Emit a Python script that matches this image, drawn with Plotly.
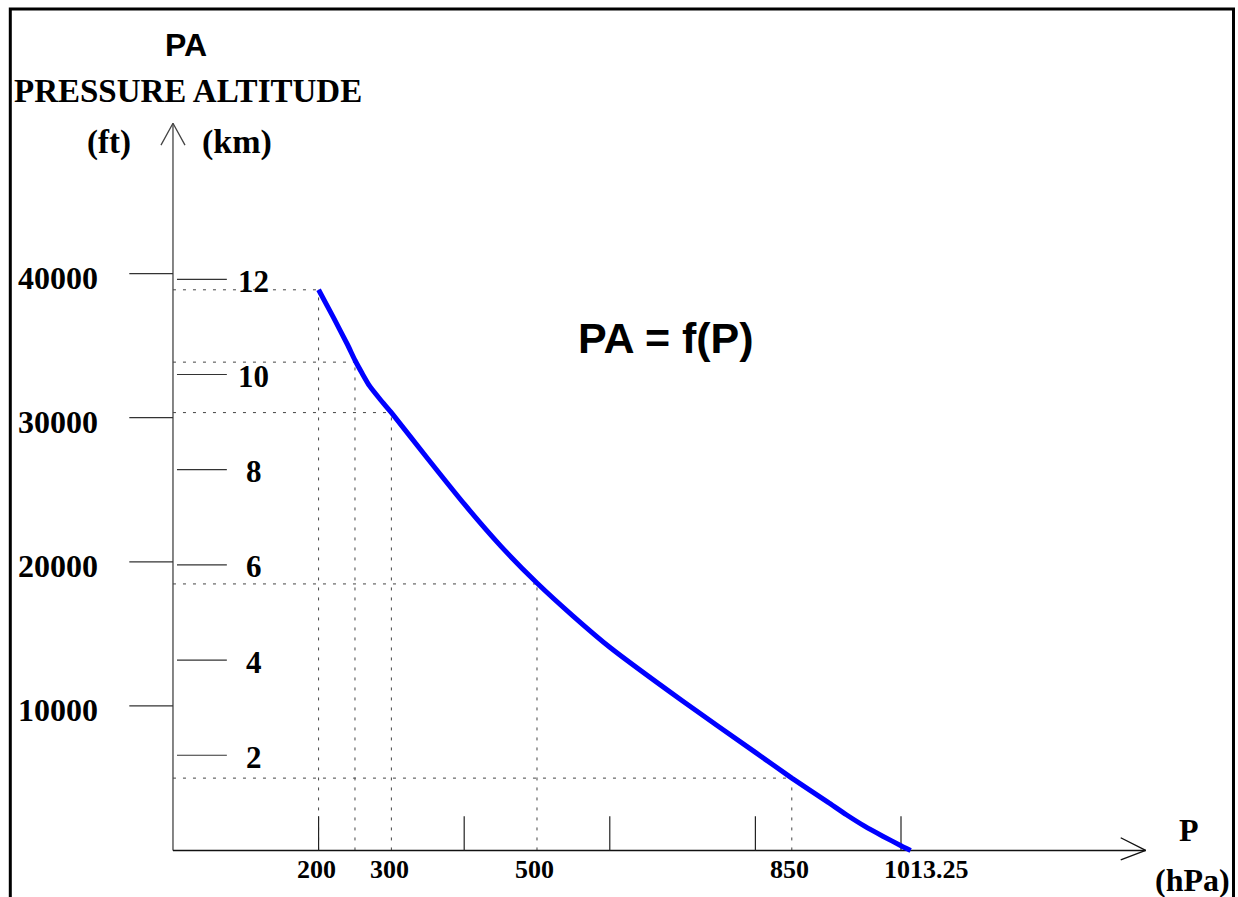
import plotly.graph_objects as go

# ---- data ----
curve_p = [200, 220, 240, 250, 260, 270, 285, 300, 350, 400, 450, 500, 550, 600,
           700, 800, 850, 900, 925, 950, 975, 1000, 1013.25]
curve_km = [11.78, 11.21, 10.62, 10.30, 10.02, 9.76, 9.47, 9.20, 8.23, 7.28, 6.40, 5.62,
            4.92, 4.27, 3.14, 2.06, 1.52, 1.01, 0.75, 0.51, 0.30, 0.10, 0.0]

ref_p = [200, 250, 300, 500, 850]
ref_km = [11.78, 10.26, 9.20, 5.60, 1.52]

p_tick_marks = [200, 400, 600, 800, 1000]
p_label_vals = [200, 300, 500, 850, 1013.25]
p_label_text = ["200", "300", "500", "850", "1013.25"]

km_ticks = [2, 4, 6, 8, 10, 12]
ft_ticks = [10000, 20000, 30000, 40000]

# ---- scales (figure spans the whole canvas) ----
W, H = 1238, 897
X_RANGE = [-237.6, 1462.9]       # hPa
KM_RANGE = [-0.978, 17.869]      # km
FT_RANGE = [-3254, 58982]        # ft

SERIF = "Liberation Serif, Times New Roman, serif"
SANS = "Liberation Sans, Arial, sans-serif"

fig = go.Figure()

def seg_trace(xs, ys, color, width, dash="solid", yaxis="y"):
    fig.add_trace(go.Scatter(x=xs, y=ys, mode="lines", yaxis=yaxis,
                             line=dict(color=color, width=width, dash=dash),
                             hoverinfo="skip", showlegend=False))

# dotted reference lines
hx, hy, vx, vy = [], [], [], []
for p, k in zip(ref_p, ref_km):
    hx += [0, p, None]; hy += [k, k, None]
    vx += [p, p, None]; vy += [0, k, None]
seg_trace(hx, hy, "#444444", 1, dash="3px,7px")
seg_trace(vx, vy, "#444444", 1, dash="3px,7px")

# axes with arrows
seg_trace([0, 0, None, -16.5, 0, 16.5], [0, 15.28, None, 14.82, 15.28, 14.82], "#444444", 1.3)
seg_trace([0, 1336.1, None, 1301.8, 1336.1, 1301.8], [0, 0, None, 0.267, 0, -0.2], "#111111", 1.4)

# x tick marks
tx, ty = [], []
for p in p_tick_marks:
    tx += [p, p, None]; ty += [0, 0.72, None]
seg_trace(tx, ty, "#222222", 1.2)

# km tick marks
kx, ky = [], []
for k in km_ticks:
    kx += [5.5, 74, None]; ky += [k, k, None]
seg_trace(kx, ky, "#333333", 1.2)

# ft tick marks (secondary axis in feet)
fx, fy = [], []
for f in ft_ticks:
    fx += [-60, 0, None]; fy += [f, f, None]
seg_trace(fx, fy, "#333333", 1.2, yaxis="y2")

# the curve
fig.add_trace(go.Scatter(x=curve_p, y=curve_km, mode="lines",
                         line=dict(color="#0000FF", width=5, shape="spline", smoothing=0.5),
                         hoverinfo="skip", showlegend=False))

ann = []
for v, t in zip(p_label_vals, p_label_text):
    ann.append(dict(x=v, y=-0.41, text="<b>" + t + "</b>", showarrow=False, xanchor="center",
                    yanchor="middle", xshift=(16 if t == "1013.25" else -2),
                    font=dict(family=SERIF, size=26, color="black")))
for k in km_ticks:
    ann.append(dict(x=111, y=k, text="<b>" + str(k) + "</b>", showarrow=False, xanchor="center",
                    yanchor="middle", yshift=-2, font=dict(family=SERIF, size=31, color="black")))
for f in ft_ticks:
    ann.append(dict(x=-158, y=f, yref="y2", text="<b>" + str(f) + "</b>", showarrow=False,
                    xanchor="center", yanchor="middle", yshift=-4,
                    font=dict(family=SERIF, size=32, color="black")))

titles = [
    dict(x=18.5, y=16.92, text="<b>PA</b>", font=dict(family=SANS, size=32, color="black")),
    dict(x=20.6, y=15.96, text="<b>PRESSURE ALTITUDE</b>", font=dict(family=SERIF, size=33, color="black")),
    dict(x=-87.9, y=14.88, text="<b>(ft)</b>", font=dict(family=SERIF, size=33, color="black")),
    dict(x=88.6, y=14.88, text="<b>(km)</b>", font=dict(family=SERIF, size=34, color="black")),
    dict(x=677.2, y=10.77, text="<b>PA = f(P)</b>", font=dict(family=SANS, size=43, color="black")),
    dict(x=1395.6, y=0.43, text="<b>P</b>", font=dict(family=SERIF, size=32, color="black")),
    dict(x=1400.5, y=-0.63, text="<b>(hPa)</b>", font=dict(family=SERIF, size=32, color="black")),
]
for a in titles:
    a.update(showarrow=False, xanchor="center", yanchor="middle")
ann += titles

fig.update_layout(
    width=W, height=H,
    margin=dict(l=0, r=0, t=0, b=0, pad=0),
    paper_bgcolor="white", plot_bgcolor="white",
    showlegend=False, hovermode=False,
    xaxis=dict(range=X_RANGE, visible=False, fixedrange=True),
    yaxis=dict(range=KM_RANGE, visible=False, fixedrange=True),
    yaxis2=dict(range=FT_RANGE, visible=False, overlaying="y", fixedrange=True),
    annotations=ann,
    shapes=[dict(type="rect", xref="paper", yref="paper",
                 x0=10.3 / W, x1=1233.5 / W, y0=-0.05, y1=1 - 9 / H,
                 line=dict(color="black", width=3))],
)

fig.write_html("out.html", config={"displayModeBar": False},
               post_script="document.body.style.margin='0px';document.body.style.overflow='hidden';")
